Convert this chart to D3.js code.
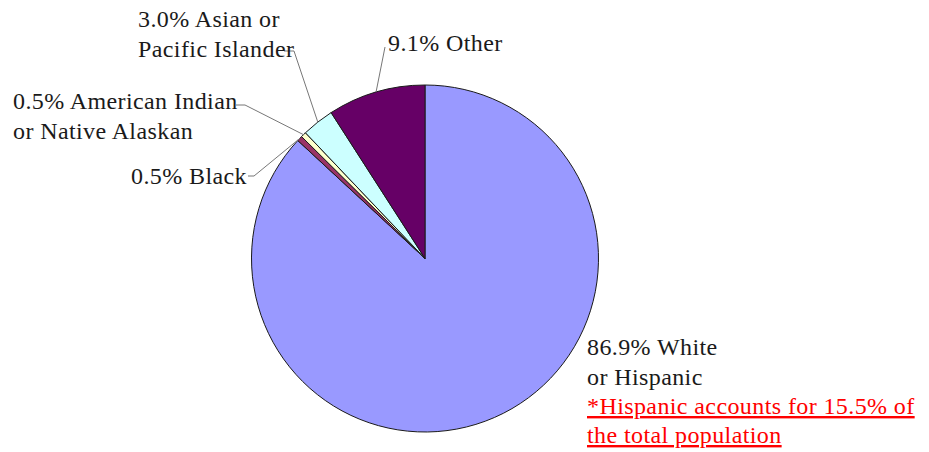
<!DOCTYPE html>
<html>
<head>
<meta charset="utf-8">
<script src="https://cdn.jsdelivr.net/npm/d3@7"></script>
<style>
  html, body { margin: 0; padding: 0; background: #fff; }
  svg { display: block; }
</style>
</head>
<body>
<svg id="chart" width="929" height="452"></svg>
<script>
// ---- data ----
const categories = ["White or Hispanic", "Black", "American Indian or Native Alaskan", "Asian or Pacific Islander", "Other"];
const values = [86.9, 0.5, 0.5, 3.0, 9.1];
const colors = ["#9999ff", "#993366", "#ffffcc", "#ccffff", "#660066"];
const labelLines = [
  ["86.9% White", "or Hispanic"],
  ["0.5% Black"],
  ["0.5% American Indian", "or Native Alaskan"],
  ["3.0% Asian or", "Pacific Islander"],
  ["9.1% Other"]
];
const noteLines = ["*Hispanic accounts for 15.5% of", "the total population"];

// ---- layout ----
const cx = 425, cy = 258.5, R = 173.5;
const FONT = '"Liberation Serif"';
const fontSize = 24, lineH = 29.5, letterSp = 0.4;
const labelLayout = [
  { x: 587, y: 355, anchor: "start", leader: null },
  { x: 247, y: 184, anchor: "end", leader: [[248, 176], [254, 176]] },
  { x: 13, y: 109, anchor: "start", leader: [[236, 105], [245, 105]] },
  { x: 138, y: 27, anchor: "start", leader: [[284, 51], [294, 51]] },
  { x: 388, y: 51, anchor: "start", leader: [[385, 47]] }
];

const svg = d3.select("#chart");
const g = svg.append("g").attr("transform", `translate(${cx},${cy})`);

const pie = d3.pie().sort(null).value(d => d)
  .startAngle(0).endAngle(2 * Math.PI);
const arcs = pie(values);
const arc = d3.arc().innerRadius(0).outerRadius(R);

g.selectAll("path.slice")
  .data(arcs)
  .join("path")
  .attr("class", "slice")
  .attr("d", arc)
  .attr("fill", (d, i) => colors[i])
  .attr("stroke", "#1a1a1a")
  .attr("stroke-width", 1)
  .attr("stroke-linejoin", "round");

// leaders
arcs.forEach((a, i) => {
  const L = labelLayout[i];
  if (!L.leader) return;
  const mid = (a.startAngle + a.endAngle) / 2;
  const end = [cx + R * Math.sin(mid), cy - R * Math.cos(mid)];
  svg.append("path")
    .attr("d", d3.line()(L.leader.concat([end])))
    .attr("fill", "none")
    .attr("stroke", "#777")
    .attr("stroke-width", 1);
});

// labels
labelLines.forEach((lines, i) => {
  const L = labelLayout[i];
  const t = svg.append("text")
    .attr("x", L.x).attr("y", L.y)
    .attr("text-anchor", L.anchor)
    .style("font-family", FONT)
    .style("font-size", fontSize + "px")
    .style("letter-spacing", letterSp + "px")
    .attr("fill", "#1a1a1a");
  lines.forEach((s, j) => {
    t.append("tspan").attr("x", L.x).attr("y", L.y + j * lineH).text(s);
  });
});

// note
const nt = svg.append("text")
  .style("font-family", FONT)
  .style("font-size", fontSize + "px")
  .style("letter-spacing", letterSp + "px")
  .style("text-decoration", "underline")
  .attr("fill", "#ff0000");
noteLines.forEach((s, j) => {
  nt.append("tspan").attr("x", 587).attr("y", 414 + j * 29).text(s);
});
</script>
</body>
</html>
